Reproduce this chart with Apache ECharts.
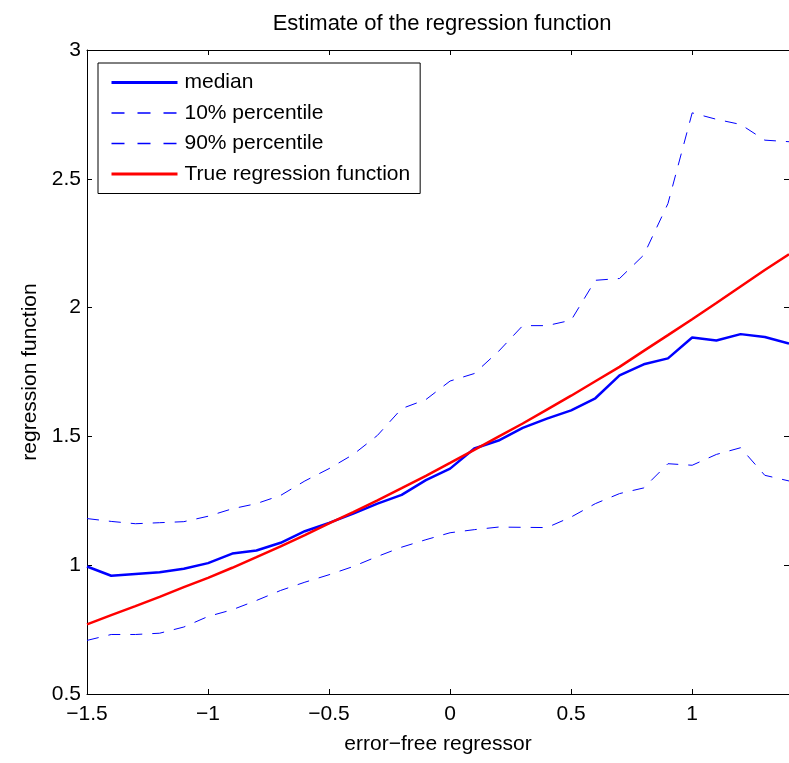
<!DOCTYPE html>
<html>
<head>
<meta charset="utf-8">
<script src="https://cdn.jsdelivr.net/npm/echarts@6/dist/echarts.min.js"></script>
<style>
html,body{margin:0;padding:0;background:#fff;}
#chart{width:789px;height:763px;}
</style>
</head>
<body>
<div id="chart"></div>
<script>
var xValues = [-1.5,-1.4,-1.3,-1.2,-1.1,-1.0,-0.9,-0.8,-0.7,-0.6,-0.5,-0.4,-0.3,-0.2,-0.1,0.0,0.1,0.2,0.3,0.4,0.5,0.6,0.7,0.8,0.9,1.0,1.1,1.2,1.3,1.4];
var median = [0.995,0.959,0.966,0.973,0.986,1.008,1.045,1.057,1.087,1.132,1.164,1.200,1.239,1.273,1.330,1.375,1.453,1.484,1.533,1.569,1.601,1.648,1.737,1.780,1.803,1.884,1.872,1.897,1.886,1.860];
var p10 = [0.708,0.731,0.731,0.736,0.760,0.801,0.827,0.863,0.902,0.934,0.963,0.995,1.034,1.070,1.099,1.126,1.138,1.148,1.147,1.146,1.187,1.239,1.278,1.300,1.394,1.388,1.430,1.456,1.349,1.327];
var p90 = [1.181,1.170,1.161,1.165,1.169,1.190,1.219,1.239,1.271,1.327,1.375,1.430,1.504,1.608,1.643,1.715,1.744,1.830,1.930,1.930,1.951,2.106,2.113,2.204,2.404,2.756,2.731,2.711,2.650,2.644];
var trueFn = [0.770,0.806,0.841,0.877,0.915,0.951,0.990,1.031,1.073,1.117,1.162,1.206,1.252,1.299,1.347,1.397,1.448,1.499,1.550,1.604,1.658,1.714,1.770,1.832,1.893,1.955,2.018,2.082,2.146,2.207];
var legendNames = ['median','10% percentile','90% percentile','True regression function'];
var xTicks = {min: -1.5, max: 1.4, interval: 0.5};
var yTicks = {min: 0.5, max: 3, interval: 0.5};

function pairs(ys){ return xValues.map(function(x,i){ return [x, ys[i]]; }); }
function fmt(v){ return String(v).replace('-', '\u2212'); }

var FONT = 'Liberation Sans, Arial, Helvetica, sans-serif';
var chart = echarts.init(document.getElementById('chart'), null, {renderer:'canvas'});
var axisCommon = {
  axisLine:{show:true, onZero:false, lineStyle:{color:'#000', width:1}},
  axisTick:{show:true, inside:true, length:5, lineStyle:{color:'#000', width:1}},
  splitLine:{show:false}
};
var solidLegend = {width:3, type:'solid'};
var dashLegend = {width:1.5, type:[13,13]};
chart.setOption({
  animation:false,
  backgroundColor:'#fff',
  title:{
    text:'Estimate of the regression function',
    left:437, top:8, textAlign:'center',
    textStyle:{fontFamily:FONT, fontSize:22, fontWeight:'normal', color:'#000'}
  },
  legend:{
    orient:'vertical', left:98, top:63,
    padding:[9,10,9,12],
    backgroundColor:'#fff', borderColor:'#000', borderWidth:1,
    itemWidth:66, itemHeight:21, itemGap:9.5,
    itemStyle:{opacity:0, borderWidth:0},
    textStyle:{fontFamily:FONT, fontSize:21, color:'#000', lineHeight:21, padding:[0,0,0,2]},
    data:[
      {name:legendNames[0], lineStyle:solidLegend},
      {name:legendNames[1], lineStyle:dashLegend},
      {name:legendNames[2], lineStyle:dashLegend},
      {name:legendNames[3], lineStyle:solidLegend}
    ]
  },
  grid:{left:87, top:50, right:-1, bottom:69, containLabel:false},
  xAxis:[
    Object.assign({}, axisCommon, {
      type:'value', position:'bottom', min:xTicks.min, max:xTicks.max, interval:xTicks.interval,
      name:'error\u2212free regressor', nameLocation:'middle', nameGap:40,
      nameTextStyle:{fontFamily:FONT, fontSize:21, color:'#000'},
      axisLabel:{fontFamily:FONT, fontSize:21, color:'#000', margin:10, showMaxLabel:false, formatter:fmt}
    }),
    Object.assign({}, axisCommon, {
      type:'value', position:'top', min:xTicks.min, max:xTicks.max, interval:xTicks.interval,
      axisLabel:{show:false}
    })
  ],
  yAxis:[
    Object.assign({}, axisCommon, {
      type:'value', position:'left', min:yTicks.min, max:yTicks.max, interval:yTicks.interval,
      name:'regression function', nameLocation:'middle', nameGap:46, nameRotate:90,
      nameTextStyle:{fontFamily:FONT, fontSize:21, color:'#000'},
      axisLabel:{fontFamily:FONT, fontSize:21, color:'#000', margin:6, formatter:fmt}
    }),
    Object.assign({}, axisCommon, {
      type:'value', position:'right', min:yTicks.min, max:yTicks.max, interval:yTicks.interval,
      axisLabel:{show:false}
    })
  ],
  series:[
    {name:legendNames[0], type:'line', data:pairs(median), symbol:'none', z:4,
     lineStyle:{color:'#0000ff', width:2.5}, itemStyle:{color:'#0000ff'}},
    {name:legendNames[1], type:'line', data:pairs(p10), symbol:'none', z:3,
     lineStyle:{color:'#0000ff', width:1, type:[12,10]}, itemStyle:{color:'#0000ff'}},
    {name:legendNames[2], type:'line', data:pairs(p90), symbol:'none', z:3,
     lineStyle:{color:'#0000ff', width:1, type:[12,10]}, itemStyle:{color:'#0000ff'}},
    {name:legendNames[3], type:'line', data:pairs(trueFn), symbol:'none', z:5,
     lineStyle:{color:'#ff0000', width:2.5}, itemStyle:{color:'#ff0000'}}
  ]
});
</script>
</body>
</html>
